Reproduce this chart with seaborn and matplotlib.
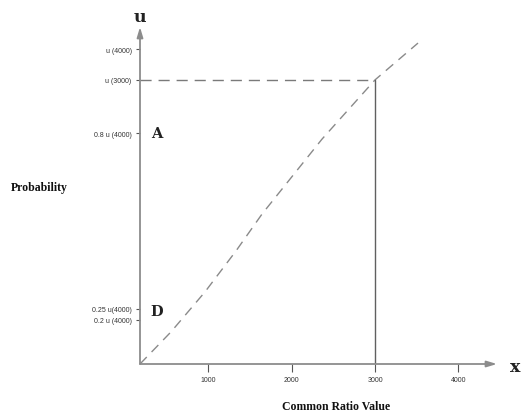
import matplotlib
matplotlib.use("Agg")
import matplotlib.pyplot as plt
import seaborn as sns
import pandas as pd

# --- data (schematic utility curve) ---
curve_x = [180, 552, 960, 1332, 1644, 2004, 2364, 3000, 3516]
curve_u = [0.0, 0.102, 0.229, 0.359, 0.476, 0.595, 0.714, 0.902, 1.019]

x_ticks = [1000, 2000, 3000, 4000]
x_tick_labels = ["1000", "2000", "3000", "4000"]

y_ticks = [1.0, 0.902, 0.733, 0.175, 0.140]
y_tick_labels = ["u (4000)", "u (3000)", "0.8 u (4000)", "0.25 u(4000)", "0.2 u (4000)"]

ref_x = 3000
ref_u = 0.902

point_labels = ["A", "D"]
point_label_u = [0.733, 0.168]

sns.set_theme(style="white")
plt.rcParams["font.family"] = ["Liberation Sans", "DejaVu Sans"]

fig = plt.figure(figsize=(5.21, 4.14), dpi=100)
ax = fig.add_axes([140/521, 49/414, (497-140)/521, (365-28)/414])
ax.set_xlim(180, 4464)
ax.set_ylim(0, 1.070)

df = pd.DataFrame({"x": curve_x, "u": curve_u})
sns.lineplot(data=df, x="x", y="u", ax=ax, color="#8a8a8a", lw=1.0,
             linestyle=(0, (7, 5)), sort=False)

# reference lines
ax.plot([180, ref_x], [ref_u, ref_u], color="#7a7a7a", lw=1.0, linestyle=(0, (8, 5)))
ax.plot([ref_x, ref_x], [0, ref_u], color="#606060", lw=1.0)

for sp in ax.spines.values():
    sp.set_visible(False)

arrow_kw = dict(arrowstyle="-|>,head_length=0.6,head_width=0.18", color="#8c8c8c",
                lw=1.3, mutation_scale=10, shrinkA=0, shrinkB=0)
ax.annotate("", xy=(1, 0), xytext=(0, 0), xycoords="axes fraction",
            textcoords="axes fraction", arrowprops=arrow_kw, annotation_clip=False)
ax.annotate("", xy=(0, 1), xytext=(0, 0), xycoords="axes fraction",
            textcoords="axes fraction", arrowprops=arrow_kw, annotation_clip=False)

ax.set_xticks(x_ticks)
ax.set_xticklabels(x_tick_labels)
ax.set_yticks(y_ticks)
ax.set_yticklabels(y_tick_labels)
ax.tick_params(axis="x", direction="out", length=6, width=0.8, color="#555555",
               labelsize=5, labelcolor="#333333", pad=3, bottom=True)
ax.tick_params(axis="y", direction="out", length=3, width=0.8, color="#555555",
               labelsize=5, labelcolor="#333333", pad=3, left=True)
ax.set_xlabel("")
ax.set_ylabel("")

for lab, u in zip(point_labels, point_label_u):
    ax.text(0.03, u, lab, transform=ax.get_yaxis_transform(), fontsize=10.5,
            fontweight="bold", family="DejaVu Serif", color="#222222",
            va="center", ha="left")

fig.text(140/521, 1 - 17/414, "u", fontsize=12.5, fontweight="bold",
         family="DejaVu Serif", ha="center", va="center", color="#222222")
fig.text(515/521, 1 - 367/414, "x", fontsize=12.5, fontweight="bold",
         family="DejaVu Serif", ha="center", va="center", color="#222222")
fig.text(39/521, 1 - 188/414, "Probability", fontsize=8.5, fontweight="bold",
         family="Liberation Serif", ha="center", va="center", color="#111111")
fig.text(336/521, 1 - 407/414, "Common Ratio Value", fontsize=8.5, fontweight="bold",
         family="Liberation Serif", ha="center", va="center", color="#111111")

fig.savefig("out.png", dpi=100)
